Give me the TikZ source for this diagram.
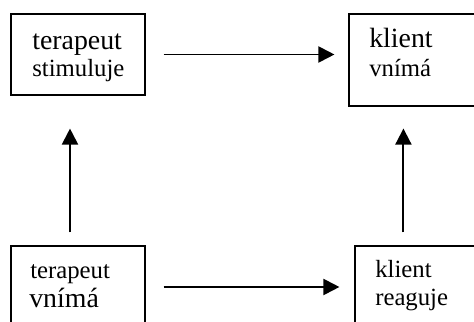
\documentclass[tikz,border=0pt]{standalone}
\usepackage{fontspec}
\setmainfont{Liberation Serif}
\usetikzlibrary{arrows.meta}
\newcommand{\bigtxt}{\fontsize{19.8}{23}\selectfont}
\newcommand{\smalltxt}{\fontsize{17.6}{20}\selectfont}

\begin{document}
\begin{tikzpicture}[>={Triangle[length=0.4cm,width=0.4cm]},
		box/.style={draw, line width=0.8pt, inner sep=0pt},
		txt/.style={anchor=base west, inner sep=0pt},
		arr/.style={->, line width=1.4pt}]
		\useasboundingbox (0,0) rectangle (11.85,8.05);
		\clip (0,0) rectangle (11.85,8.05);

		\node (ts) [box, minimum width=3.35cm, minimum height=2.025cm] at (1.95,6.6875) {};
		\node (kv) [box, minimum width=3.525cm, minimum height=2.3cm] at (10.4875,6.55) {};
		\node (tv) [box, minimum width=3.35cm, minimum height=2.05cm] at (1.95,0.875) {};
		\node (kr) [box, minimum width=3.375cm, minimum height=2.05cm] at (10.5625,0.875) {};

		\node (ts1) [txt, font=\bigtxt] at (0.80,6.80) {terapeut};
		\node (ts2) [txt, font=\smalltxt] at (0.80,6.125) {stimuluje};
		\node (kv1) [txt, font=\bigtxt] at (9.225,6.85) {klient};
		\node (kv2) [txt, font=\smalltxt] at (9.225,6.125) {vnímá};
		\node (tv1) [txt, font=\smalltxt] at (0.75,1.075) {terapeut};
		\node (tv2) [txt, font=\bigtxt] at (0.725,0.35) {vnímá};
		\node (kr1) [txt, font=\smalltxt] at (9.375,1.10) {klient};
		\node (kr2) [txt, font=\smalltxt] at (9.375,0.40) {reaguje};

		\draw [arr, shorten <=0.45cm, shorten >=0.35cm] (ts.east) -- (ts.east -| kv.west);
		\draw [arr, shorten <=0.45cm, shorten >=0.375cm] (tv.east) -- (tv.east -| kr.west);
		\draw [arr, shorten <=0.325cm, shorten >=0.825cm] ([xshift=-0.2cm]tv.north) -- ([xshift=-0.2cm]ts.south);
		\draw [arr, shorten <=0.325cm, shorten >=0.55cm] ([xshift=1.225cm]kr.north west) -- ([xshift=1.225cm]kr.north west |- kv.south);
	\end{tikzpicture}
\end{document}
